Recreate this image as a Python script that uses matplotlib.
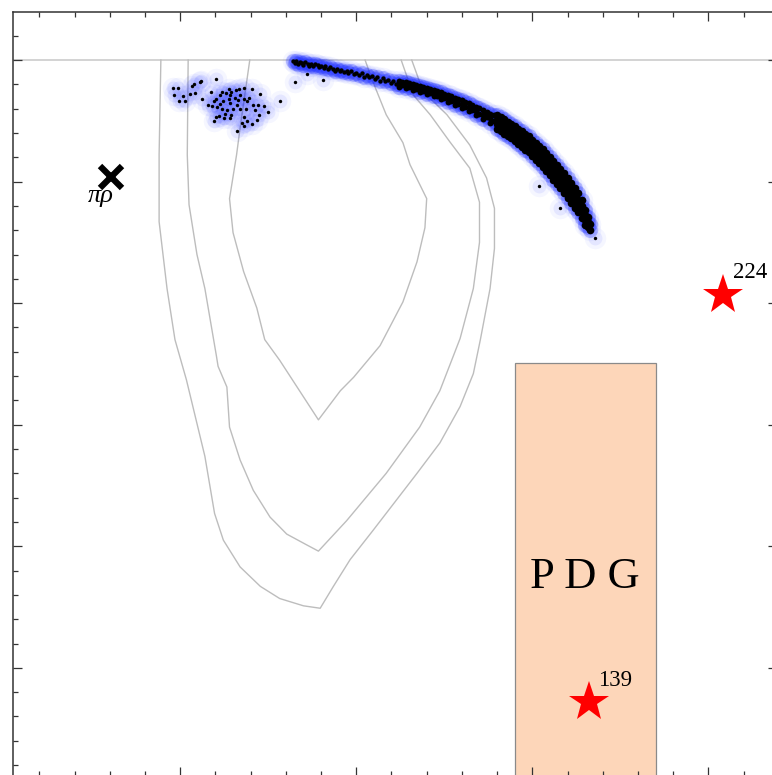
import matplotlib.pyplot as plt
from matplotlib.patches import Rectangle
from matplotlib.ticker import MultipleLocator

# contour lines (light gray)
outer_x = [978, 976, 976, 985, 994, 1007, 1028, 1039, 1049, 1068, 1091, 1113, 1140, 1159,
           1174, 1193, 1219, 1269, 1295, 1318, 1333, 1341, 1352, 1357, 1357, 1348, 1329,
           1303, 1276, 1263]
outer_y = [0, -78, -133, -188, -230, -263, -326, -373, -395, -417, -433, -443, -449, -451,
           -433, -411, -387, -340, -315, -285, -258, -230, -188, -155, -122, -97, -70,
           -45, -26, 0]

middle_x = [1009, 1008, 1010, 1019, 1028, 1041, 1043, 1053, 1056, 1068, 1083, 1102, 1121,
            1144, 1157, 1189, 1234, 1272, 1295, 1310, 1318, 1333, 1340, 1340, 1329, 1306,
            1284, 1265, 1251]
middle_y = [0, -78, -119, -160, -188, -243, -252, -269, -302, -329, -354, -376, -390,
            -399, -404, -379, -340, -302, -272, -244, -229, -188, -150, -117, -89, -67,
            -45, -29, 0]

inner_x = [1079, 1068, 1064, 1056, 1060, 1072, 1087, 1096, 1113, 1157, 1182, 1197, 1227,
           1253, 1269, 1278, 1280, 1261, 1253, 1234, 1219, 1210]
inner_y = [0, -56, -78, -114, -142, -174, -204, -230, -247, -296, -272, -261, -235,
           -199, -166, -138, -114, -86, -68, -45, -18, 0]

# small cluster of sample points
cluster_x = [992, 997, 993, 1003, 999, 1005, 1013, 1016, 1023, 1024,
             1041, 1011, 1017, 1025, 1035, 1031, 1036, 1038, 1041, 1045,
             1047, 1052, 1055, 1058, 1063, 1067, 1072, 1081, 1091, 1045,
             1049, 1055, 1057, 1062, 1066, 1072, 1076, 1078, 1083, 1088,
             1095, 1100, 1085, 1089, 1075, 1068, 1060, 1053, 1047, 1042,
             1041, 1044, 1050, 1056, 1058, 1072, 1076, 1081, 1072, 1070,
             1064, 1038, 1087, 1113, 1051, 1064, 1068, 1056]
cluster_y = [-23, -23, -29, -30, -34, -34, -21, -20, -18, -17,
             -16, -28, -27, -32, -26, -37, -38, -34, -32, -29,
             -26, -27, -24, -26, -25, -24, -23, -24, -28, -36,
             -34, -32, -35, -31, -33, -32, -34, -31, -37, -37,
             -38, -43, -41, -45, -40, -40, -40, -41, -40, -39,
             -47, -46, -48, -48, -45, -47, -50, -53, -54, -52,
             -58, -50, -49, -34, -44, -37, -29, -29]

# stray points next to the band
stray_x = [1130, 1144, 1162, 1408, 1431, 1471]
stray_y = [-18.4, -11.8, -16.5, -103.7, -122.1, -146.2]

# thin start of the band
thin_pts = [
    (1128, -0.8), (1130, -2.5), (1132, -1.2), (1134, -3.2), (1136, -1.6), (1138, -2.6),
    (1140, -3.9), (1142, -2.0), (1145, -3.2), (1146, -4.6), (1149, -3.0), (1151, -5.0),
    (1153, -3.6), (1156, -4.3), (1158, -6.0), (1160, -4.6), (1163, -6.8), (1165, -5.2),
    (1168, -7.8), (1170, -6.0), (1173, -7.2), (1176, -8.9), (1178, -7.0), (1181, -9.4),
    (1183, -7.9), (1186, -10.2), (1189, -8.8), (1191, -10.6), (1194, -9.4), (1197, -11.6),
    (1200, -10.3), (1203, -12.5), (1206, -11.0), (1209, -13.6), (1212, -12.2), (1215, -14.3),
    (1218, -13.2), (1221, -15.4), (1224, -14.2), (1227, -16.9), (1230, -15.0), (1233, -17.6),
    (1236, -16.2), (1239, -18.6), (1242, -17.0), (1245, -19.6),
]

# middle part of the band
mid_pts = [
    (1248, -16.9), (1248, -19.6), (1248, -21.8), (1252, -18.0), (1252, -20.9),
    (1256, -17.9), (1256, -20.2), (1256, -22.9), (1260, -19.2), (1260, -22.3),
    (1264, -19.5), (1264, -21.6), (1264, -24.4), (1268, -20.3), (1268, -23.5),
    (1272, -21.0), (1272, -23.2), (1272, -26.4), (1276, -22.0), (1276, -25.2),
    (1280, -22.8), (1280, -25.0), (1280, -28.1), (1284, -24.0), (1284, -27.3),
    (1288, -24.5), (1288, -26.8), (1288, -29.9), (1292, -25.9), (1292, -29.2),
    (1296, -26.6), (1296, -29.0), (1296, -32.3), (1300, -28.0), (1300, -31.6),
    (1304, -28.9), (1304, -31.5), (1304, -34.6), (1308, -30.0), (1308, -33.8),
    (1312, -31.1), (1312, -34.0), (1312, -37.4), (1316, -32.3), (1316, -36.5),
    (1320, -33.2), (1320, -36.0), (1320, -39.2), (1324, -34.4), (1324, -38.6),
    (1328, -35.5), (1328, -38.9), (1328, -42.0), (1332, -36.9), (1332, -41.4),
    (1336, -38.3), (1336, -41.9), (1336, -45.1), (1340, -39.7), (1340, -44.0),
    (1344, -41.0), (1344, -44.9), (1344, -48.2), (1348, -42.6), (1348, -47.0),
    (1352, -44.0), (1352, -48.1), (1352, -51.7), (1356, -45.4), (1356, -50.3),
]

# dense end of the band
thick_pts = [
    (1360, -45.5), (1360, -49.5), (1360, -53.0), (1360, -57.0),
    (1364, -47.0), (1364, -51.2), (1364, -55.0), (1364, -58.6),
    (1368, -48.9), (1368, -53.0), (1368, -56.9), (1368, -60.7),
    (1372, -50.6), (1372, -55.0), (1372, -58.5), (1372, -62.8),
    (1376, -52.4), (1376, -56.6), (1376, -60.8), (1376, -64.5),
    (1380, -54.3), (1380, -58.8), (1380, -62.4), (1380, -66.9),
    (1384, -56.5), (1384, -60.9), (1384, -64.8), (1384, -69.0),
    (1388, -58.6), (1388, -63.0), (1388, -67.2), (1388, -71.4),
    (1392, -60.8), (1392, -65.3), (1392, -69.0), (1392, -73.8),
    (1396, -62.9), (1396, -67.5), (1396, -71.6), (1396, -76.0),
    (1400, -65.5), (1400, -70.0), (1400, -74.2), (1400, -78.9),
    (1404, -68.2), (1404, -73.0), (1404, -77.1), (1404, -82.0),
    (1408, -70.9), (1408, -75.6), (1408, -80.1), (1408, -85.0),
    (1412, -73.5), (1412, -78.6), (1412, -83.0), (1412, -88.1),
    (1416, -76.4), (1416, -81.5), (1416, -86.0), (1416, -91.2),
    (1420, -79.6), (1420, -85.0), (1420, -89.3), (1420, -94.8),
    (1424, -82.9), (1424, -88.3), (1424, -92.9), (1424, -98.5),
    (1428, -86.3), (1428, -91.8), (1428, -96.5), (1428, -102.0),
    (1432, -89.5), (1432, -95.2), (1432, -99.8), (1432, -105.6),
    (1436, -93.0), (1436, -98.8), (1436, -103.4), (1436, -109.4),
    (1440, -97.0), (1440, -102.8), (1440, -107.5), (1440, -113.5),
    (1444, -101.0), (1444, -106.9), (1444, -111.5), (1444, -117.6),
    (1448, -105.2), (1448, -110.9), (1448, -115.6), (1448, -121.6),
    (1452, -109.5), (1452, -115.0), (1452, -119.7), (1452, -125.3),
    (1456, -115.5), (1456, -120.4), (1456, -125.2), (1456, -130.0),
    (1460, -123.0), (1460, -127.8), (1460, -132.0), (1460, -136.0),
    (1463, -129.0), (1463, -133.0), (1463, -137.5),
    (1466, -135.0), (1466, -139.5),
]
thin_x = [p[0] for p in thin_pts]
thin_y = [p[1] for p in thin_pts]
mid_x = [p[0] for p in mid_pts]
mid_y = [p[1] for p in mid_pts]
thick_x = [p[0] for p in thick_pts]
thick_y = [p[1] for p in thick_pts]

# markers
threshold = (921, -96)
star_x = [1617, 1464]
star_y = [-193, -528]
star_labels = ["224", "139"]
label_x = [1628, 1475]
label_y = [-179, -515]

pdg_left, pdg_right, pdg_top = 1380, 1540, -249

serif = "Liberation Serif"
halo = "#2233ff"

fig = plt.figure(figsize=(7.72, 7.75), dpi=100)
ax = fig.add_axes([13 / 772, -1 / 775, 764 / 772, 764 / 775])
ax.set_xlim(810, 1678)
ax.set_ylim(-589, 39.5)

ax.axhline(0, color="#c8c8c8", lw=1.1, zorder=1)

ax.add_patch(Rectangle((pdg_left, -700), pdg_right - pdg_left, pdg_top + 700,
                       facecolor="#fdd6b9", edgecolor="#8a8a8a", lw=0.9, zorder=1.5))
ax.text((pdg_left + pdg_right) / 2, -434, "P D G", ha="center", va="baseline",
        fontsize=32, family=serif, color="black", zorder=3)

for cx, cy in [(outer_x, outer_y), (middle_x, middle_y), (inner_x, inner_y)]:
    ax.plot(cx, cy, color="#bdbdbd", lw=1.0, zorder=2)

# soft blue glow round the points
band_x = thin_x + mid_x + thick_x
band_y = thin_y + mid_y + thick_y
all_x = cluster_x + stray_x + band_x
all_y = cluster_y + stray_y + band_y
ax.scatter(all_x, all_y, s=240, color=halo, alpha=0.045, lw=0, zorder=3)
ax.scatter(all_x, all_y, s=100, color=halo, alpha=0.08, lw=0, zorder=3.1)
ax.scatter(band_x, band_y, s=120, color=halo, alpha=0.22, lw=0, zorder=3.2)

ax.scatter(cluster_x + stray_x, cluster_y + stray_y, s=6, color="black", lw=0, zorder=4)
ax.scatter(thin_x, thin_y, s=10, color="black", lw=0, zorder=4)
ax.scatter(mid_x, mid_y, s=18, color="black", lw=0, zorder=4)
ax.scatter(thick_x, thick_y, s=30, color="black", lw=0, zorder=4)

ax.text(threshold[0] - 11, threshold[1] - 21, "πρ", ha="center", va="baseline",
        fontsize=19, family=serif, style="italic", zorder=4)
ax.plot(*threshold, marker="x", ms=16, mew=4.5, color="black", zorder=5)

ax.plot(star_x, star_y, ls="none", marker="*", ms=30, color="red", mew=0, zorder=5)
for lx, ly, t in zip(label_x, label_y, star_labels):
    ax.text(lx, ly, t, ha="left", va="baseline", fontsize=16.5, family=serif, zorder=5)

ax.xaxis.set_major_locator(MultipleLocator(200))
ax.xaxis.set_minor_locator(MultipleLocator(40))
ax.yaxis.set_major_locator(MultipleLocator(100))
ax.yaxis.set_minor_locator(MultipleLocator(20))
ax.tick_params(which="both", direction="in", top=True, right=True,
               labelbottom=False, labelleft=False, color="#333333", width=0.9)
ax.tick_params(which="major", length=6.5)
ax.tick_params(which="minor", length=3.6)
for sp in ax.spines.values():
    sp.set_color("#333333")
    sp.set_linewidth(1.1)

fig.savefig("out.png", dpi=100)
